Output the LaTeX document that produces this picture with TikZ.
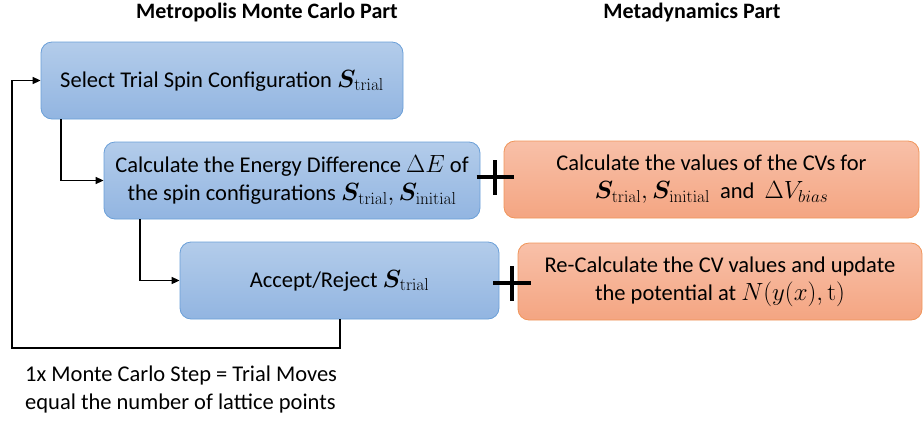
\documentclass[tikz,border=0pt]{standalone}
\usepackage{amsmath,bm}
\usepackage[no-math]{fontspec}
\setmainfont{Carlito}
\usetikzlibrary{arrows.meta}
\definecolor{bluetop}{HTML}{B3CCEA}
\definecolor{bluebot}{HTML}{92B5E1}
\definecolor{blueedge}{HTML}{6A9FD8}
\definecolor{ortop}{HTML}{F8C0A8}
\definecolor{orbot}{HTML}{F4A582}
\definecolor{oredge}{HTML}{F0955A}
\newcommand{\mth}[1]{{\fontsize{25.5}{28}\selectfont$#1$}}
\newcommand{\Sv}{\bm{S}}
\begin{document}
\begin{tikzpicture}[x=1pt,y=-1pt,
  bluebox/.style={draw=blueedge, line width=0.8pt, rounded corners=11pt, top color=bluetop, bottom color=bluebot, align=center, inner sep=0pt, font=\fontsize{22.5}{28}\selectfont},
  orbox/.style={draw=oredge, line width=0.8pt, rounded corners=11pt, top color=ortop, bottom color=orbot, align=center, inner sep=0pt, font=\fontsize{22.5}{28}\selectfont},
  conn/.style={line width=1.6pt, -{Triangle[length=8pt,width=7pt]}},
  title/.style={font=\fontsize{22}{26}\selectfont\bfseries},
  plussign/.style={line width=4.5pt}
]
\useasboundingbox (0,0) rectangle (924,421);
% titles
\node[title] (t1) at (267,13) {Metropolis Monte Carlo Part};
\node[title] (t2) at (692,13) {Metadynamics Part};
% blue boxes
\node[bluebox, minimum width=362pt, minimum height=77pt] (b1) at (222,80.5) {Select Trial Spin Configuration \mth{\Sv_{\mathrm{trial}}}};
\node[bluebox, minimum width=376pt, minimum height=77pt] (b2) at (292,180.5) {Calculate the Energy Difference \mth{\Delta E} of\\the spin configurations \mth{\Sv_{\mathrm{trial}},\Sv_{\mathrm{initial}}}};
\node[bluebox, minimum width=319pt, minimum height=77pt] (b3) at (339.5,280.5) {Accept/Reject \mth{\Sv_{\mathrm{trial}}}};
% orange boxes
\node[orbox, minimum width=415pt, minimum height=77pt] (o1) at (711.5,179.5) {Calculate the values of the CVs for\\\mth{\Sv_{\mathrm{trial}},\Sv_{\mathrm{initial}}}\ \ and\ \ \mth{\Delta V_{bias}}};
\node[orbox, minimum width=404pt, minimum height=77pt] (o2) at (720,281.5) {Re-Calculate the CV values and update\\the potential at \mth{N(y(x),\mathrm{t})}};
% plus signs
\coordinate (p1) at (495,177);
\coordinate (p2) at (512,283);
\draw[plussign] ([xshift=-18.5pt]p1) -- ([xshift=18.5pt]p1);
\draw[plussign] ([yshift=-17.5pt]p1) -- ([yshift=17.5pt]p1);
\draw[plussign] ([xshift=-19pt]p2) -- ([xshift=19pt]p2);
\draw[plussign] ([yshift=-17.5pt]p2) -- ([yshift=17.5pt]p2);
% connectors
\coordinate (c1) at (61,181);
\coordinate (c2) at (140,281);
\draw[conn] (b1.south -| c1) |- (b2.west);
\draw[conn] (b2.south -| c2) |- (b3.west);
\coordinate (l1) at (340,348);
\coordinate (l2) at (12,348);
\draw[conn] (b3.south -| l1) -- (l1) -- (l2) |- (b1.west);
% bottom note
\node[anchor=north west, align=left, inner sep=0pt, font=\fontsize{22.5}{28}\selectfont] (note) at (25,366) {1x Monte Carlo Step = Trial Moves\\equal the number of lattice points};
\end{tikzpicture}
\end{document}
